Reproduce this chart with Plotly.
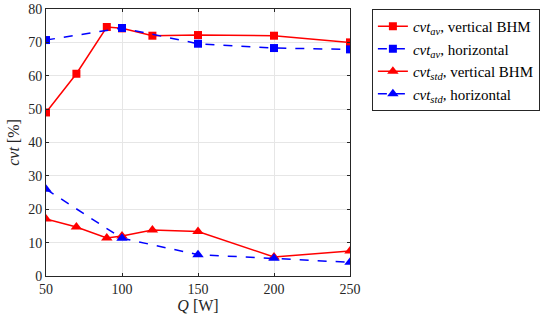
import plotly.graph_objects as go

q_red = [50, 70, 90, 100, 120, 150, 200, 250]
q_blue = [50, 100, 150, 200, 250]
cvt_av_vert = [49.0, 60.6, 74.6, 74.2, 72.0, 72.2, 72.0, 70.0]
cvt_av_horiz = [70.7, 74.3, 69.6, 68.3, 67.9]
cvt_std_vert = [17.1, 14.7, 11.4, 12.0, 13.8, 13.3, 5.7, 7.5]
cvt_std_horiz = [26.0, 11.3, 6.4, 5.3, 4.1]

font = "Times New Roman, Liberation Serif, serif"
fig = go.Figure()
fig.add_trace(go.Scatter(x=q_red, y=cvt_av_vert, mode="lines+markers", legendgroup="a",
    name="<i>cvt</i><sub><i>av</i></sub>, vertical BHM",
    line=dict(color="#ff0000", width=1.5), marker=dict(symbol="square", size=8, color="#ff0000")))
fig.add_trace(go.Scatter(x=q_blue, y=cvt_av_horiz, mode="lines+markers", legendgroup="b",
    name="<i>cvt</i><sub><i>av</i></sub>, horizontal",
    line=dict(color="#0000ff", width=1.5, dash="dash"), marker=dict(symbol="square", size=8, color="#0000ff")))
fig.add_trace(go.Scatter(x=q_red, y=cvt_std_vert, mode="lines+markers", legendgroup="c",
    name="<i>cvt</i><sub><i>std</i></sub>, vertical BHM",
    line=dict(color="#ff0000", width=1.5), marker=dict(symbol="triangle-up", size=10, color="#ff0000")))
fig.add_trace(go.Scatter(x=q_blue, y=cvt_std_horiz, mode="lines+markers", legendgroup="d",
    name="<i>cvt</i><sub><i>std</i></sub>, horizontal",
    line=dict(color="#0000ff", width=1.5, dash="dash"), marker=dict(symbol="triangle-up", size=10, color="#0000ff")))

axis_common = dict(showline=True, linecolor="#262626", linewidth=1, mirror="ticks",
                   ticks="inside", ticklen=3, tickcolor="#262626", automargin=False,
                   showgrid=True, gridcolor="#e6e6e6", gridwidth=1, zeroline=False,
                   tickfont=dict(family=font, size=14, color="#262626"))
fig.update_xaxes(range=[50, 250], tickvals=[50, 100, 150, 200, 250],
                 title=dict(text="<i>Q</i> [W]", font=dict(family=font, size=16, color="#262626"), standoff=2),
                 **axis_common)
fig.update_yaxes(range=[0, 80], tickvals=[0, 10, 20, 30, 40, 50, 60, 70, 80],
                 title=dict(text="<i>cvt</i> [%]", font=dict(family=font, size=16, color="#262626"), standoff=4),
                 **axis_common)
fig.update_layout(width=550, height=324, margin=dict(l=46, r=200, t=9, b=48, autoexpand=False),
                  plot_bgcolor="white", paper_bgcolor="white",
                  font=dict(family=font, size=14, color="#000000"),
                  legend=dict(x=1.072, y=1, xanchor="left", yanchor="top",
                              bordercolor="#262626", borderwidth=1, bgcolor="white",
                              font=dict(family=font, size=15), tracegroupgap=0))
fig.write_html("out.html", config={"displayModeBar": False},
               post_script="document.body.style.margin='0';")
